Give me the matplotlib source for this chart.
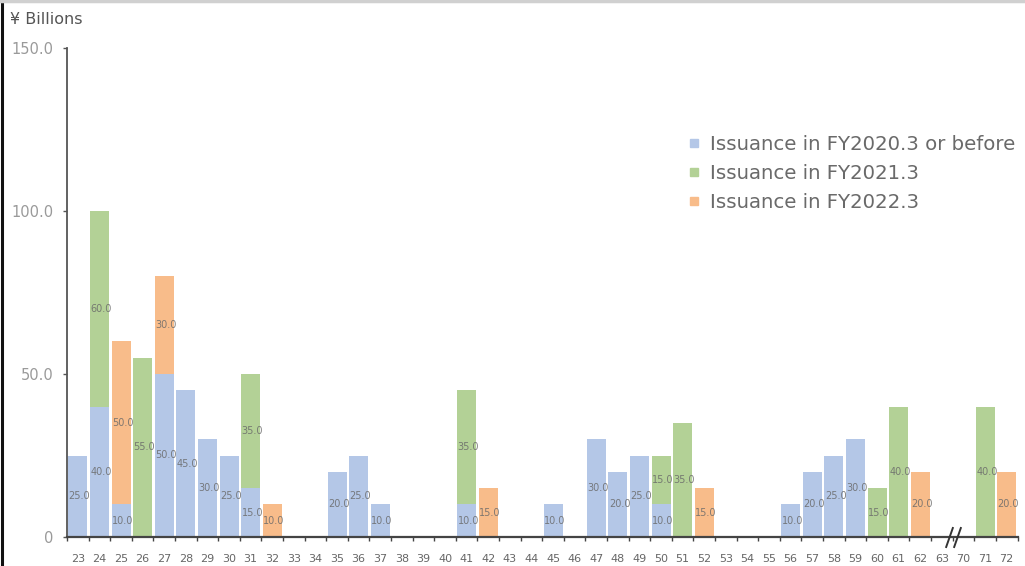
import matplotlib
matplotlib.use("Agg")
import matplotlib.pyplot as plt
from matplotlib.lines import Line2D
import numpy as np

# Redemption year (fiscal) for each bond bucket
years = [str(y) for y in range(23, 64)] + ["70", "71", "72"]

# Outstanding amounts by issuance vintage (¥ billions)
issued_fy2020_or_before = {
    "23": 25, "24": 40, "25": 10, "27": 50, "28": 45, "29": 30, "30": 25, "31": 15,
    "35": 20, "36": 25, "37": 10, "41": 10, "45": 10, "47": 30, "48": 20, "49": 25,
    "50": 10, "56": 10, "57": 20, "58": 25, "59": 30,
}
issued_fy2021 = {
    "24": 60, "26": 55, "31": 35, "41": 35, "50": 15, "51": 35, "60": 15, "61": 40,
    "71": 40,
}
issued_fy2022 = {
    "25": 50, "27": 30, "32": 10, "42": 15, "52": 15, "62": 20, "72": 20,
}

series_names = ["Issuance in FY2020.3 or before", "Issuance in FY2021.3", "Issuance in FY2022.3"]
series_data = [issued_fy2020_or_before, issued_fy2021, issued_fy2022]
series_colors = ["#b4c7e7", "#b3d196", "#f8bc8a"]

y_ticks = [0, 50, 100, 150]
y_tick_labels = ["0", "50.0", "100.0", "150.0"]

fig = plt.figure(figsize=(10.25, 5.66), dpi=100)
ax = fig.add_axes([67 / 1025, 29 / 566, 950.5 / 1025, 489 / 566])

x = np.arange(len(years))
bottom = np.zeros(len(years))
bar_width = 0.88
for name, data, color in zip(series_names, series_data, series_colors):
    vals = np.array([data.get(y, 0) for y in years], dtype=float)
    ax.bar(x, vals, bar_width, bottom=bottom, color=color, label=name, zorder=2)
    for xi, v, b in zip(x, vals, bottom):
        if v > 0:
            ax.text(xi + 0.08, b + v / 2, f"{v:.1f}", ha="center", va="center",
                    fontsize=7, color="#6a6a6a", alpha=0.85, zorder=3)
    bottom += vals

ax.set_xlim(-0.5, len(years) - 0.5)
ax.set_ylim(0, 150)

for side in ("top", "right"):
    ax.spines[side].set_visible(False)
ax.spines["left"].set_color("#555555")
ax.spines["left"].set_linewidth(1.3)
ax.spines["bottom"].set_color("#444444")
ax.spines["bottom"].set_linewidth(1.6)

ax.set_yticks(y_ticks)
ax.set_yticklabels(y_tick_labels)
ax.tick_params(axis="y", direction="out", length=3, width=1, color="#555555",
               labelsize=10.5, labelcolor="#9a9a9a", pad=7)

ax.set_xticks(x)
ax.set_xticklabels(years)
ax.tick_params(axis="x", which="major", length=0, labelsize=8,
               labelcolor="#666666", pad=12)
ax.set_xticks(np.arange(len(years) + 1) - 0.5, minor=True)
ax.tick_params(axis="x", which="minor", direction="out", length=3, width=1,
               color="#444444")

# Axis break between 63 and 70
for bx in (40.35, 40.72):
    ax.plot([bx], [0], marker=[(-0.35, -1), (0.35, 1)], markersize=15,
            color="#333333", markeredgewidth=1.4, clip_on=False, zorder=5,
            transform=ax.get_xaxis_transform())

fig.text(10 / 1025, 1 - 20 / 566, "¥ Billions", fontsize=11.5, color="#555555",
         ha="left", va="center")

handles = [Line2D([], [], marker="s", linestyle="none", markersize=6,
                  markerfacecolor=c, markeredgecolor=c) for c in series_colors]
leg = fig.legend(handles, series_names, loc="upper left",
                 bbox_to_anchor=(687 / 1025, 1 - 135 / 566), frameon=False,
                 fontsize=14.2, handlelength=0.7, handletextpad=0.45,
                 labelspacing=0.5, borderaxespad=0, borderpad=0)
for t in leg.get_texts():
    t.set_color("#6a6a6a")

# Frame lines along the left and top edges
fig.add_artist(Line2D([1.5 / 1025, 1.5 / 1025], [0, 1], color="#111111",
                      linewidth=2.2, transform=fig.transFigure))
fig.add_artist(Line2D([0, 1], [1 - 1 / 566, 1 - 1 / 566], color="#d0d0d0",
                      linewidth=2.5, transform=fig.transFigure))

fig.savefig("out.png", dpi=100)
